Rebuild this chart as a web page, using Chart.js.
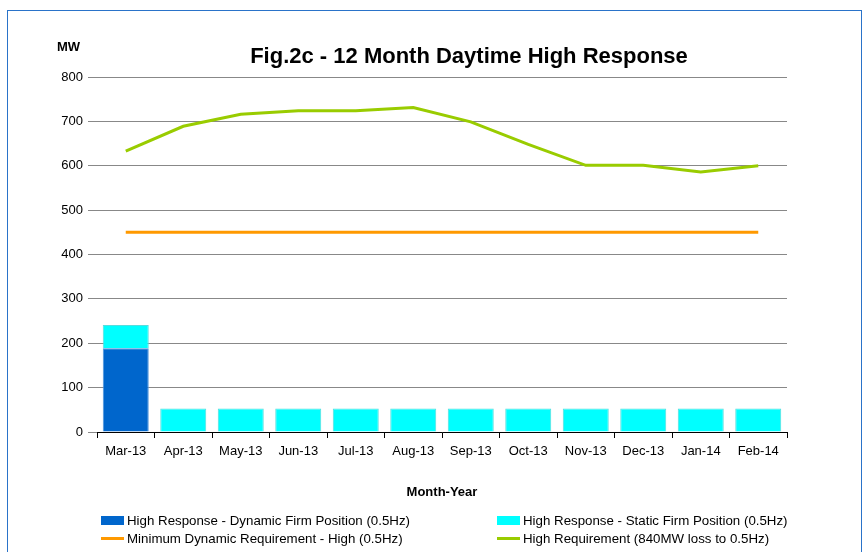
<!DOCTYPE html>
<html>
<head>
<meta charset="utf-8">
<script src="https://cdn.jsdelivr.net/npm/chart.js@4"></script>
<style>
  body { margin: 0; background: #fff; font-family: "Liberation Sans", Arial, sans-serif; }
  #wrap { position: relative; width: 867px; height: 552px; overflow: hidden; }
  #frame { position: absolute; left: 7px; top: 10px; width: 853px; height: 560px; border: 1px solid #2a73c9; }
  canvas { position: absolute; left: 0; top: 0; }
  .txt { position: absolute; color: #000; white-space: nowrap; }
  #title { left: 0; width: 938px; top: 43px; text-align: center; font-weight: bold; font-size: 22px; }
  #mw { left: 57px; top: 39px; font-weight: bold; font-size: 13px; }
  #xtitle { left: 0; width: 884px; top: 484px; text-align: center; font-weight: bold; font-size: 13px; }
  .leg { position: absolute; font-size: 13.3px; color: #000; display: flex; align-items: center; height: 16px; }
  .leg span.sw { display: inline-block; width: 23px; margin-right: 3px; }
</style>
</head>
<body>
<div id="wrap">
  <div id="frame"></div>
  <canvas id="chart" width="867" height="552"></canvas>
  <div class="txt" id="title">Fig.2c - 12 Month Daytime High Response</div>
  <div class="txt" id="mw">MW</div>
  <div class="txt" id="xtitle">Month-Year</div>
  <div id="legend"></div>
</div>
<script>
const months = ['Mar-13', 'Apr-13', 'May-13', 'Jun-13', 'Jul-13', 'Aug-13', 'Sep-13', 'Oct-13', 'Nov-13', 'Dec-13', 'Jan-14', 'Feb-14'];
const dynamicFirm = [189, 0, 0, 0, 0, 0, 0, 0, 0, 0, 0, 0];
const staticFirm = [52, 53, 53, 53, 53, 53, 53, 53, 53, 53, 53, 53];
const minDynamic = [450, 450, 450, 450, 450, 450, 450, 450, 450, 450, 450, 450];
const highReq = [633, 689, 716, 724, 724, 731, 699, 648, 601, 601, 586, 600];

document.addEventListener('DOMContentLoaded', () => {
    const ctx = document.getElementById('chart').getContext('2d');

    const data = {
        labels: months,
        datasets: [
            {
                type: 'line', label: 'Minimum Dynamic Requirement - High (0.5Hz)',
                data: minDynamic, borderColor: '#ff9900', borderWidth: 3,
                pointRadius: 0, stack: 'l1', order: 0
            },
            {
                type: 'line', label: 'High Requirement (840MW loss to 0.5Hz)',
                data: highReq, borderColor: '#99cc00', borderWidth: 3,
                pointRadius: 0, stack: 'l2', order: 0
            },
            {
                type: 'bar', label: 'High Response - Dynamic Firm Position (0.5Hz)',
                data: dynamicFirm, backgroundColor: '#0066cc', borderColor: '#4d94db',
                borderWidth: 1, stack: 'bars', order: 1,
                barPercentage: 0.8, categoryPercentage: 1
            },
            {
                type: 'bar', label: 'High Response - Static Firm Position (0.5Hz)',
                data: staticFirm, backgroundColor: '#00ffff', borderColor: '#55dddd',
                borderWidth: 1, stack: 'bars', order: 1,
                barPercentage: 0.8, categoryPercentage: 1
            }
        ]
    };

    const config = {
        data: data,
        options: {
            responsive: false,
            animation: false,
            layout: { padding: { left: 0, right: 80, top: 77, bottom: 82 } },
            plugins: { legend: { display: false }, tooltip: { enabled: false } },
            scales: {
                x: {
                    stacked: true,
                    afterFit: (s) => { s.height = 38; },
                    grid: { display: true, drawOnChartArea: false, offset: true, tickLength: 6, color: '#000' },
                    border: { display: true, color: '#000' },
                    ticks: { color: '#000', font: { family: 'Liberation Sans', size: 13 }, padding: 6, maxRotation: 0 }
                },
                y: {
                    stacked: true,
                    min: 0, max: 800,
                    afterFit: (s) => { s.width = 97; },
                    grid: { color: '#888', tickLength: 9 },
                    border: { display: false },
                    ticks: { stepSize: 100, color: '#000', font: { family: 'Liberation Sans', size: 13 }, padding: 5 }
                }
            }
        }
    };

    const chart = new Chart(ctx, config);

    // legend built from the chart datasets, two columns
    const legend = document.getElementById('legend');
    const slots = [
        { ds: 2, left: 101, top: 512 },
        { ds: 3, left: 497, top: 512 },
        { ds: 0, left: 101, top: 530 },
        { ds: 1, left: 497, top: 530 }
    ];
    slots.forEach((s) => {
        const d = chart.data.datasets[s.ds];
        const item = document.createElement('div');
        item.className = 'leg';
        item.style.left = s.left + 'px';
        item.style.top = s.top + 'px';
        const sw = document.createElement('span');
        sw.className = 'sw';
        if (d.type === 'bar') {
            sw.style.height = '9px';
            sw.style.background = d.backgroundColor;
        } else {
            sw.style.height = '3px';
            sw.style.background = d.borderColor;
        }
        item.appendChild(sw);
        item.appendChild(document.createTextNode(d.label));
        legend.appendChild(item);
    });
});
</script>
</body>
</html>
